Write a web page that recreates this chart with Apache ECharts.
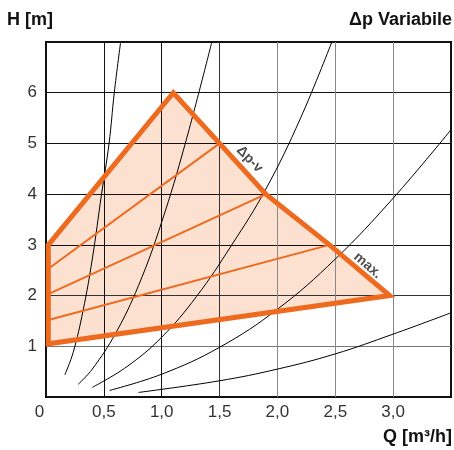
<!DOCTYPE html>
<html><head><meta charset="utf-8">
<script src="https://cdn.jsdelivr.net/npm/echarts@6/dist/echarts.min.js"></script>
<style>html,body{margin:0;padding:0;background:#fff}#c{width:454px;height:450px}</style>
</head><body><div id="c"></div>
<script>
// Tick labels
const xTickLabels = ['0', '0,5', '1,0', '1,5', '2,0', '2,5', '3,0', ''];
const yTickLabels = ['', '1', '2', '3', '4', '5', '6', ''];

// Δp-v operating envelope (Q [m3/h], H [m])
const envelopeQ = [0.02, 0.02, 1.1, 1.5, 1.9, 2.45, 2.97];
const envelopeH = [1.05, 3.0, 6.0, 5.0, 4.0, 3.0, 2.0];

// intermediate Δp-v control lines
const ctrl1Q = [0.02, 1.5],  ctrl1H = [2.53, 5.0];
const ctrl2Q = [0.02, 1.9],  ctrl2H = [2.03, 4.0];
const ctrl3Q = [0.02, 2.45], ctrl3H = [1.52, 3.0];

// system curves
const sys1Q = [0.8, 1.5, 2.0, 2.5, 3.0, 3.5];
const sys1H = [0.09, 0.32, 0.55, 0.85, 1.24, 1.66];
const sys2Q = [0.55, 1.0, 1.5, 2.0, 2.5, 3.0, 3.5];
const sys2H = [0.13, 0.45, 0.98, 1.73, 2.72, 3.92, 5.27];
const sys3Q = [0.4, 0.7, 1.0, 1.3, 1.6, 1.9, 2.2, 2.47];
const sys3H = [0.19, 0.6, 1.18, 1.98, 2.98, 4.1, 5.5, 7.0];
const sys4Q = [0.278, 0.4, 0.6, 0.8, 1.0, 1.2, 1.433];
const sys4H = [0.25, 0.55, 1.25, 2.2, 3.45, 4.97, 7.0];
const sys5Q = [0.163, 0.235, 0.32, 0.4, 0.48, 0.545, 0.59, 0.645];
const sys5H = [0.44, 0.88, 1.7, 2.72, 4.0, 5.0, 6.0, 7.0];

// curve annotations
const labelText = ['Δp-v', 'max.'];
const labelQ = [1.76, 2.78];
const labelH = [4.69, 2.59];

function pairs(q, h) { return q.map((v, i) => [v, h[i]]); }

const ORANGE = '#EE6A1F';
const FILL = '#FCE1D0';
const FONT = "'Liberation Sans', Arial, sans-serif";

function envelopeRender(fill, stroke, lw) {
  return function (params, api) {
    if (params.dataIndex !== 0) return null;
    const pts = envelopeQ.map((q, i) => api.coord([q, envelopeH[i]]));
    return {
      type: 'polygon',
      shape: { points: pts },
      style: { fill: fill, stroke: stroke, lineWidth: lw, lineJoin: 'miter', miterLimit: 10 }
    };
  };
}

function sysSeries(q, h) {
  return {
    type: 'line', z: 4, data: pairs(q, h), smooth: 0.4, symbol: 'none',
    lineStyle: { color: '#000', width: 1 }, silent: true
  };
}
function ctrlSeries(q, h) {
  return {
    type: 'line', z: 5, data: pairs(q, h), symbol: 'none',
    lineStyle: { color: ORANGE, width: 2 }, silent: true
  };
}

const chart = echarts.init(document.getElementById('c'), null, { renderer: 'canvas' });
chart.setOption({
  animation: false,
  backgroundColor: '#fff',
  title: [
    { text: 'H [m]', left: 7, top: 11, padding: 0,
      textStyle: { fontFamily: FONT, fontWeight: 'bold', fontSize: 18, color: '#111' } },
    { text: 'Δp Variabile', right: 2, top: 11, padding: 0,
      textStyle: { fontFamily: FONT, fontWeight: 'bold', fontSize: 18, color: '#111' } },
    { text: 'Q [m³/h]', right: 2, top: 428, padding: 0,
      textStyle: { fontFamily: FONT, fontWeight: 'bold', fontSize: 18, color: '#111' } }
  ],
  grid: { left: 46, right: 2, top: 42, bottom: 53, show: true, borderColor: '#111', borderWidth: 2, z: 3 },
  xAxis: {
    type: 'value', min: 0, max: 3.5, interval: 0.5, z: 3,
    axisLine: { show: false }, axisTick: { show: false },
    axisLabel: {
      margin: 7, fontFamily: FONT, fontSize: 17, color: '#333',
      formatter: function (v, i) {
        const t = xTickLabels[i] || '';
        return i === 0 ? '{z|' + t + '}' : t;
      },
      rich: { z: { fontFamily: FONT, fontSize: 17, color: '#333', padding: [0, 13, 0, 0] } }
    },
    splitLine: { show: true, lineStyle: { width: 1,
      color: ['#111', '#111', '#111', '#333', '#888', '#888', '#888', '#111'] } }
  },
  yAxis: {
    type: 'value', min: 0, max: 7, interval: 1, z: 3,
    axisLine: { show: false }, axisTick: { show: false },
    axisLabel: {
      margin: 9, fontFamily: FONT, fontSize: 17, color: '#333',
      formatter: function (v, i) { return yTickLabels[i] || ''; }
    },
    splitLine: { show: true, lineStyle: { width: 1,
      color: ['#111', '#777', '#333', '#111', '#111', '#111', '#111', '#111'] } }
  },
  series: [
    { type: 'custom', z: 1, coordinateSystem: 'cartesian2d', data: pairs(envelopeQ, envelopeH),
      encode: { x: 0, y: 1 }, renderItem: envelopeRender(FILL, null, 0), silent: true },
    sysSeries(sys1Q, sys1H),
    sysSeries(sys2Q, sys2H),
    sysSeries(sys3Q, sys3H),
    sysSeries(sys4Q, sys4H),
    sysSeries(sys5Q, sys5H),
    ctrlSeries(ctrl1Q, ctrl1H),
    ctrlSeries(ctrl2Q, ctrl2H),
    ctrlSeries(ctrl3Q, ctrl3H),
    { type: 'custom', z: 6, coordinateSystem: 'cartesian2d', data: pairs(envelopeQ, envelopeH),
      encode: { x: 0, y: 1 }, renderItem: envelopeRender('none', ORANGE, 5), silent: true },
    { type: 'scatter', z: 7, symbolSize: 0, silent: true,
      data: labelText.map((t, i) => ({ name: t, value: [labelQ[i], labelH[i]],
        label: { rotate: i === 0 ? -46 : -41 } })),
      label: { show: true, position: 'inside', formatter: '{b}', fontFamily: FONT,
        fontWeight: 'bold', fontSize: 14, color: '#222' } }
  ]
});
</script></body></html>
